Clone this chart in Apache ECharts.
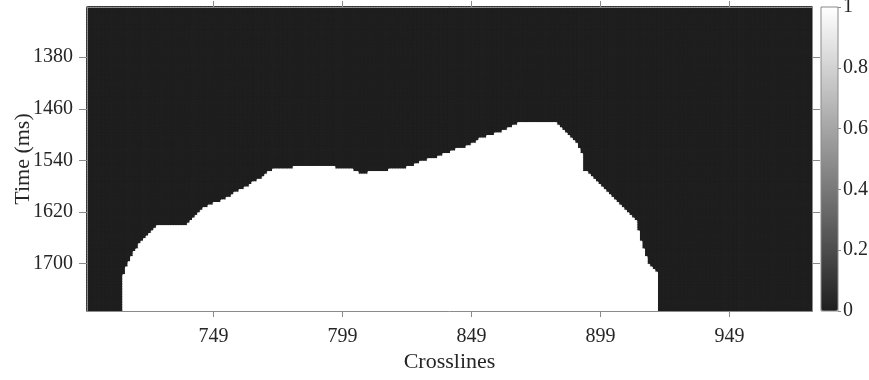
<!DOCTYPE html>
<html><head><meta charset="utf-8">
<script src="https://cdn.jsdelivr.net/npm/echarts@6/dist/echarts.min.js"></script>
<style>html,body{margin:0;padding:0;background:#fff}#c{width:869px;height:380px}</style>
</head><body><div id="c"></div>
<script>
// ---- data ----
const crosslineFirst = 700, crosslineLast = 980;      // one image column per crossline
const timeFirst = 1304, timeLast = 1772, timeStep = 4; // sample centres (ms)
const xTicks = [749, 799, 849, 899, 949];
const yTicks = [1380, 1460, 1540, 1620, 1700];
const cbTicks = [0, 0.2, 0.4, 0.6, 0.8, 1];
// mask = 1 below this time (ms) for crosslines 714 .. 920, mask = 0 elsewhere
const maskFirstCrossline = 714;
const maskTopTime = [
  1720,1708,1700,1692,1684,1680,1672,1668,1664,1660,
  1656,1652,1648,1644,1644,1644,1644,1644,1644,1644,
  1644,1644,1644,1644,1644,1640,1636,1632,1628,1624,
  1620,1616,1616,1612,1612,1608,1608,1608,1604,1604,
  1600,1600,1596,1592,1592,1588,1588,1584,1584,1580,
  1576,1576,1572,1572,1568,1564,1560,1560,1556,1556,
  1556,1556,1556,1556,1556,1556,1552,1552,1552,1552,
  1552,1552,1552,1552,1552,1552,1552,1552,1552,1552,
  1552,1552,1556,1556,1556,1556,1556,1556,1556,1560,
  1560,1564,1564,1564,1564,1560,1560,1560,1560,1560,
  1560,1560,1560,1556,1556,1556,1556,1556,1556,1556,
  1552,1552,1552,1548,1548,1544,1544,1544,1540,1540,
  1540,1540,1536,1536,1532,1532,1532,1528,1528,1524,
  1524,1524,1524,1520,1520,1516,1516,1512,1508,1508,
  1508,1504,1504,1504,1500,1500,1500,1496,1496,1492,
  1492,1488,1488,1484,1484,1484,1484,1484,1484,1484,
  1484,1484,1484,1484,1484,1484,1484,1484,1488,1492,
  1496,1500,1504,1508,1512,1516,1524,1532,1560,1560,
  1564,1568,1572,1576,1580,1584,1588,1592,1596,1600,
  1604,1608,1612,1616,1620,1624,1628,1632,1636,1652,
  1668,1680,1692,1704,1708,1712,1716
];

// ---- build ----
const crosslines = [];
for (let c = crosslineFirst; c <= crosslineLast; c++) crosslines.push(String(c));
const times = [];
for (let t = timeFirst; t <= timeLast; t += timeStep) times.push(String(t));
const cells0 = [], cells1 = [];
crosslines.forEach((c, i) => {
  const k = Number(c) - maskFirstCrossline;
  const top = (k >= 0 && k < maskTopTime.length) ? maskTopTime[k] : Infinity;
  times.forEach((t, j) => {
    if (Number(t) >= top) cells1.push([i, j, 1]); else cells0.push([i, j, 0]);
  });
});

const FONT = 'Liberation Serif';
const LINE = '#8a8a8a';
const TXT = '#262626';
const DARK = '#1f1f1f';
const xMin = crosslineFirst, xMax = crosslineLast + 1;
const yMin = timeFirst - timeStep / 2, yMax = timeLast + timeStep / 2;

const chart = echarts.init(document.getElementById('c'), null, {renderer: 'canvas'});
chart.setOption({
  animation: false,
  backgroundColor: '#ffffff',
  textStyle: {fontFamily: FONT},
  grid: [
    {left: 87, top: 7, width: 725, height: 304, outerBoundsMode: 'none', containLabel: false,
     show: true, backgroundColor: DARK, borderWidth: 0},
    {left: 821, top: 7, width: 17, height: 304, outerBoundsMode: 'none', containLabel: false,
     show: true, borderColor: LINE, borderWidth: 1, backgroundColor: 'transparent', z: 10},
    {left: 87, top: 7, width: 725, height: 304, outerBoundsMode: 'none', containLabel: false}
  ],
  visualMap: {
    type: 'continuous', min: 0, max: 1, seriesIndex: [0, 1], calculable: false,
    orient: 'vertical', left: 821, top: 7, itemWidth: 17, itemHeight: 304,
    padding: 0, text: null, hoverLink: false,
    inRange: {color: [DARK, '#ffffff']}
  },
  xAxis: [
    {type: 'category', gridIndex: 0, position: 'top', data: crosslines, show: false},
    {type: 'value', gridIndex: 0, position: 'bottom', min: xMin, max: xMax, z: 10,
     axisLine: {show: true, lineStyle: {color: LINE, width: 1}},
     axisTick: {show: true, customValues: xTicks, length: 6, inside: false, lineStyle: {color: LINE}},
     axisLabel: {customValues: xTicks, margin: 16, color: TXT, fontSize: 20, fontFamily: FONT,
       formatter: v => String(v)},
     splitLine: {show: false},
     name: 'Crosslines', nameLocation: 'middle', nameGap: 40, nameMoveOverlap: false,
     nameTextStyle: {color: TXT, fontSize: 22, fontFamily: FONT}},
    {type: 'category', gridIndex: 1, data: ['cb'], show: false},
    {type: 'value', gridIndex: 2, position: 'top', min: xMin, max: xMax, z: 10,
     axisLine: {show: true, lineStyle: {color: LINE, width: 1}},
     axisTick: {show: true, customValues: xTicks, length: 6, inside: false, lineStyle: {color: LINE}},
     axisLabel: {show: false}, splitLine: {show: false}}
  ],
  yAxis: [
    {type: 'category', gridIndex: 0, position: 'right', data: times, inverse: true, show: false},
    {type: 'value', gridIndex: 0, position: 'left', inverse: true, min: yMin, max: yMax, z: 10,
     axisLine: {show: true, lineStyle: {color: LINE, width: 1}},
     axisTick: {show: true, customValues: yTicks, length: 8, inside: false, lineStyle: {color: LINE}},
     axisLabel: {customValues: yTicks, margin: 14, color: TXT, fontSize: 20, fontFamily: FONT,
       formatter: v => String(v)},
     splitLine: {show: false},
     name: 'Time (ms)', nameLocation: 'middle', nameGap: 53, nameMoveOverlap: false,
     nameTextStyle: {color: TXT, fontSize: 22, fontFamily: FONT}},
    {type: 'value', gridIndex: 1, position: 'right', min: 0, max: 1, interval: 0.2, z: 10,
     axisLine: {show: false},
     axisTick: {show: true, length: 3, inside: false, lineStyle: {color: LINE}},
     axisLabel: {margin: 5, color: TXT, fontSize: 20, fontFamily: FONT,
       formatter: v => (cbTicks.includes(Math.round(v * 10) / 10) ? String(Math.round(v * 10) / 10) : '')},
     splitLine: {show: false}},
    {type: 'value', gridIndex: 2, position: 'right', inverse: true, min: yMin, max: yMax, z: 10,
     axisLine: {show: true, lineStyle: {color: LINE, width: 1}},
     axisTick: {show: true, customValues: yTicks, length: 8, inside: false, lineStyle: {color: LINE}},
     axisLabel: {show: false}, splitLine: {show: false}}
  ],
  series: [
    {type: 'heatmap', xAxisIndex: 0, yAxisIndex: 0, data: cells0,
     itemStyle: {borderColor: DARK, borderWidth: 1},
     progressive: 0, emphasis: {disabled: true}, silent: true},
    {type: 'heatmap', xAxisIndex: 0, yAxisIndex: 0, data: cells1,
     itemStyle: {borderColor: '#ffffff', borderWidth: 1},
     progressive: 0, emphasis: {disabled: true}, silent: true}
  ]
});
</script></body></html>
